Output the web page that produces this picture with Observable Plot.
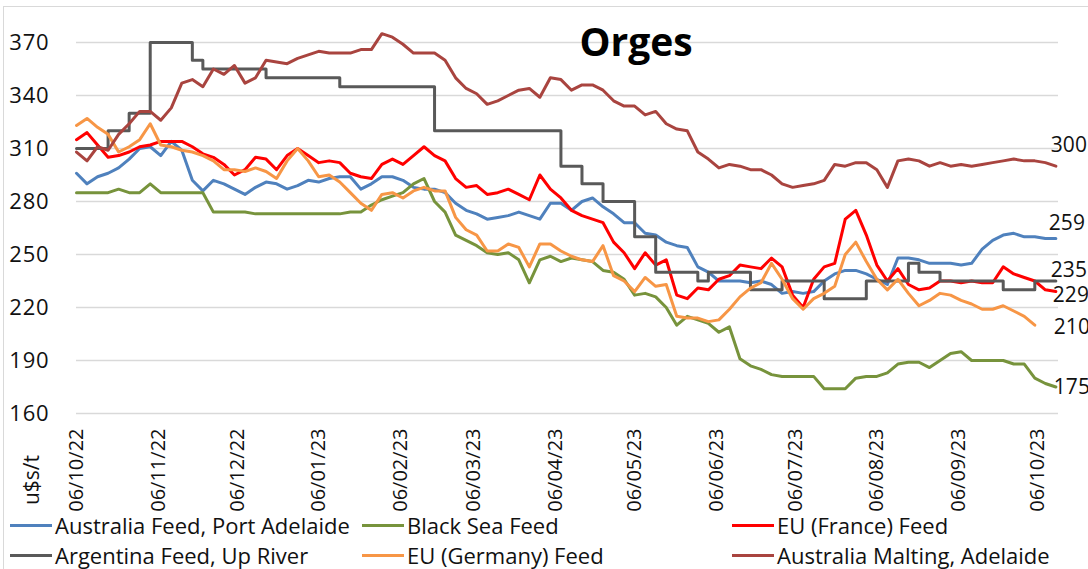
<!DOCTYPE html>
<html>
<head>
<meta charset="utf-8">
<script src="https://cdn.jsdelivr.net/npm/d3@7"></script>
<script src="https://cdn.jsdelivr.net/npm/@observablehq/plot@0.6"></script>
<style>
  body { margin: 0; background: #fff; font-family: "Open Sans", Lato, sans-serif; }
  #wrap { position: relative; width: 1088px; height: 569px; overflow: hidden; background: #fff; }
  #frame { position: absolute; left: 3px; top: 6px; width: 1200px; height: 700px;
           border-top: 1.5px solid #d9d9d9; border-left: 1.5px solid #d9d9d9; }
  #chart { position: absolute; left: 0; top: 0; }
  #chart g[aria-label="y-axis tick label"] text { letter-spacing: 0.8px; }
  #title { position: absolute; left: 536px; top: 21px; width: 200px; text-align: center;
           font-family: "Open Sans", sans-serif; font-weight: 700; font-size: 39px; line-height: 1; color: #000; }
  #ylabel { position: absolute; left: -9px; top: 468px; width: 80px; height: 24px; line-height: 24px;
            text-align: center; font-size: 21px; color: #111; transform: rotate(-90deg); }
  .leg { position: absolute; height: 26px; display: flex; align-items: center; font-size: 22px; color: #111; white-space: nowrap; }
  .leg .sw { display: inline-block; width: 42px; height: 3px; margin-right: 3px; }
</style>
</head>
<body>
<div id="wrap">
  <div id="frame"></div>
  <div id="chart"></div>
  <div id="title"></div>
  <div id="ylabel"></div>
  <div id="legend"></div>
</div>
<script>
// ---- data ----
const title = "Orges";
const yLabel = "u$s/t";
const dates = [
 "2022-10-06","2022-10-10","2022-10-14","2022-10-18","2022-10-22","2022-10-26","2022-10-30","2022-11-03","2022-11-07","2022-11-11",
 "2022-11-15","2022-11-19","2022-11-23","2022-11-27","2022-12-01","2022-12-05","2022-12-09","2022-12-13","2022-12-17","2022-12-21",
 "2022-12-25","2022-12-29","2023-01-02","2023-01-06","2023-01-10","2023-01-14","2023-01-18","2023-01-22","2023-01-26","2023-01-30",
 "2023-02-03","2023-02-07","2023-02-11","2023-02-15","2023-02-19","2023-02-23","2023-02-27","2023-03-03","2023-03-07","2023-03-11",
 "2023-03-15","2023-03-19","2023-03-23","2023-03-27","2023-03-31","2023-04-04","2023-04-08","2023-04-12","2023-04-16","2023-04-20",
 "2023-04-24","2023-04-28","2023-05-02","2023-05-06","2023-05-10","2023-05-14","2023-05-18","2023-05-22","2023-05-26","2023-05-30",
 "2023-06-03","2023-06-07","2023-06-11","2023-06-15","2023-06-19","2023-06-23","2023-06-27","2023-07-01","2023-07-05","2023-07-09",
 "2023-07-13","2023-07-17","2023-07-21","2023-07-25","2023-07-29","2023-08-02","2023-08-06","2023-08-10","2023-08-14","2023-08-18",
 "2023-08-22","2023-08-26","2023-08-30","2023-09-03","2023-09-07","2023-09-11","2023-09-15","2023-09-19","2023-09-23","2023-09-27",
 "2023-10-01","2023-10-05","2023-10-09","2023-10-13"
];
const ausFeed = [
 296,290,294,296,299,304,310,311,306,314,
 309,292,286,292,290,287,284,288,291,290,
 287,289,292,291,293,294,294,287,290,294,
 294,292,288,287,287,285,279,275,273,270,
 271,272,274,272,270,279,279,275,280,282,
 277,273,268,268,262,261,257,255,254,243,
 240,235,235,235,234,235,233,228,229,228,
 229,235,239,241,241,239,236,233,248,248,
 247,245,245,245,244,245,253,258,261,262,
 260,260,259,259
];
const blackSea = [
 285,285,285,285,287,285,285,290,285,285,
 285,285,285,274,274,274,274,273,273,273,
 273,273,273,273,273,273,274,274,278,281,
 283,285,290,293,280,274,261,258,255,251,
 250,251,247,234,247,249,246,248,247,246,
 241,240,236,227,228,226,220,210,215,213,
 211,206,209,191,187,185,182,181,181,181,
 181,174,174,174,180,181,181,183,188,189,
 189,186,190,194,195,190,190,190,190,188,
 188,180,177,175
];
const euFrance = [
 315,319,312,305,306,308,311,312,314,314,
 314,311,307,305,301,295,298,305,304,298,
 306,310,306,302,303,302,296,294,293,301,
 304,301,306,311,306,303,293,288,289,284,
 285,287,284,281,295,287,282,275,272,270,
 268,257,251,242,251,244,247,227,225,231,
 230,236,238,244,243,242,248,243,227,220,
 236,243,245,270,275,261,244,235,242,233,
 230,231,235,235,234,235,234,234,243,239,
 237,235,230,229
];
const argFeed = [
 310,310,310,320,320,330,330,370,370,370,
 370,360,355,355,355,355,355,355,350,350,
 350,350,350,350,350,345,345,345,345,345,
 345,345,345,345,320,320,320,320,320,320,
 320,320,320,320,320,320,300,300,290,290,
 280,280,280,260,260,240,240,240,240,235,
 240,240,240,240,230,230,230,235,235,235,
 235,225,225,225,225,235,235,235,235,245,
 240,240,235,235,235,235,235,235,230,230,
 230,235,235,235
];
const euGermany = [
 323,327,322,318,308,311,315,324,312,311,
 309,308,306,303,298,298,297,299,297,293,
 303,310,303,294,295,291,285,279,275,284,
 285,282,286,288,286,286,271,264,261,252,
 252,256,254,243,256,256,252,249,247,246,
 255,238,235,229,237,232,233,215,214,214,
 212,213,219,226,231,234,245,236,225,219,
 225,228,232,250,257,246,236,230,236,228,
 221,224,228,227,224,222,219,219,221,218,
 215,210,null,null
];
const ausMalting = [
 308,303,311,309,318,324,331,331,326,333,
 347,349,345,355,352,357,347,350,360,359,
 358,361,363,365,364,364,364,366,366,375,
 373,369,364,364,364,360,350,344,341,335,
 337,340,343,344,339,350,349,343,346,346,
 343,337,334,334,329,331,324,321,320,308,
 304,299,301,300,298,298,295,290,288,289,
 290,292,301,300,302,302,298,288,303,304,
 303,300,302,300,301,300,301,302,303,304,
 303,303,302,300
];
const seriesNames = [
 "Australia Feed, Port Adelaide", "Black Sea Feed", "EU (France) Feed",
 "Argentina Feed, Up River", "EU (Germany) Feed", "Australia Malting, Adelaide"
];
const seriesValues = [ausFeed, blackSea, euFrance, argFeed, euGermany, ausMalting];
const xTicks = ["2022-10-06","2022-11-06","2022-12-06","2023-01-06","2023-02-06","2023-03-06",
 "2023-04-06","2023-05-06","2023-06-06","2023-07-06","2023-08-06","2023-09-06","2023-10-06"];
const yTicks = [160, 190, 220, 250, 280, 310, 340, 370];

// ---- styles ----
const colors = ["#4F81BD", "#77933C", "#FF0000", "#595959", "#F79646", "#A9443F"];
const curves = ["linear", "linear", "linear", "step-after", "linear", "linear"];
// end-label offsets (px): [dx, dy] per series
const labelOffsets = [[-7, -15], [-2, 0], [-3, 4], [-5, -11], [-2, 2], [-5, -21]];

const parse = d3.utcParse("%Y-%m-%d");
const series = seriesNames.map((name, s) => ({
  name, color: colors[s], curve: curves[s],
  rows: dates.map((d, i) => ({date: parse(d), value: seriesValues[s][i]}))
}));

const lastDate = parse(dates[dates.length - 1]);
const labelMarks = series.map((s, i) => {
  const vals = seriesValues[i].filter(v => v != null);
  const last = vals[vals.length - 1];
  return Plot.text([{date: lastDate, value: last}], {
    x: "date", y: "value", text: d => String(Math.round(d.value)),
    textAnchor: "start", lineAnchor: "middle", fontSize: 21, fill: "#111",
    dx: labelOffsets[i][0], dy: labelOffsets[i][1]
  });
});

const chart = Plot.plot({
  width: 1088, height: 515,
  marginLeft: 76, marginRight: 30, marginTop: 42, marginBottom: 102,
  style: {fontFamily: "'Open Sans', sans-serif", color: "#111", background: "transparent", overflow: "hidden"},
  x: {type: "utc", domain: [parse("2022-10-06"), parse("2023-10-14")]},
  y: {domain: [160, 370]},
  marks: [
    Plot.gridY({ticks: yTicks, stroke: "#d9d9d9", strokeOpacity: 1, strokeWidth: 1.3}),
    Plot.axisY({ticks: yTicks, tickSize: 0, tickPadding: 27, fontSize: 22, label: null}),
    Plot.axisX({ticks: xTicks.map(parse), tickFormat: d3.utcFormat("%d/%m/%y"), tickRotate: -90,
                tickSize: 0, tickPadding: 15, fontSize: 20, label: null}),
    ...series.map(s => Plot.line(s.rows, {x: "date", y: "value", stroke: s.color, strokeWidth: 3,
                                          curve: s.curve, strokeLinejoin: "round"})),
    ...labelMarks
  ]
});
document.getElementById("chart").appendChild(chart);
document.getElementById("title").textContent = title;
document.getElementById("ylabel").textContent = yLabel;

// legend (2 rows x 3 columns, Excel order)
const legCols = [10, 362, 732];
const legRows = [512, 542];
const legend = document.getElementById("legend");
seriesNames.forEach((name, i) => {
  const el = document.createElement("div");
  el.className = "leg";
  el.style.left = legCols[i % 3] + "px";
  el.style.top = legRows[Math.floor(i / 3)] + "px";
  const sw = document.createElement("span");
  sw.className = "sw";
  sw.style.background = colors[i];
  const tx = document.createElement("span");
  tx.textContent = name;
  el.appendChild(sw); el.appendChild(tx);
  legend.appendChild(el);
});
</script>
</body>
</html>
